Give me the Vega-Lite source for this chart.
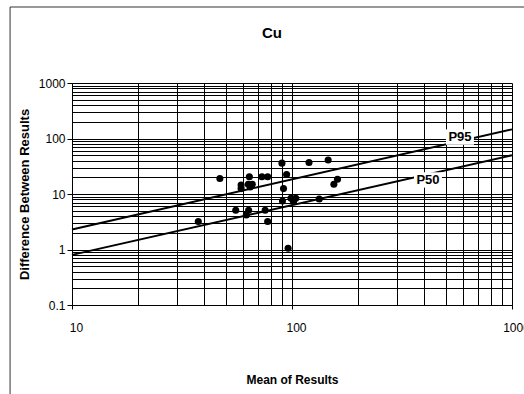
{
  "$schema": "https://vega.github.io/schema/vega-lite/v6.json",
  "autosize": {"type": "none"},
  "width": 440,
  "height": 222,
  "padding": {"left": 72, "top": 83, "right": 12, "bottom": 89},
  "background": "white",
  "config": {
    "font": "Liberation Sans",
    "view": {"stroke": null},
    "axis": {"labelFont": "Liberation Sans", "titleFont": "Liberation Sans", "labelColor": "#000", "titleColor": "#000"}
  },
  "title": {
    "text": "Cu",
    "fontSize": 15,
    "fontWeight": "bold",
    "color": "#000",
    "offset": -34,
    "dx": -20,
    "anchor": "middle"
  },
  "datasets": {
    "samples": [
      {"mean": 37.5, "diff": 3.2}, {"mean": 47, "diff": 19}, {"mean": 55.5, "diff": 5.1},
      {"mean": 58.7, "diff": 14.5}, {"mean": 58.7, "diff": 12.5}, {"mean": 62, "diff": 4.2},
      {"mean": 63.5, "diff": 5.1}, {"mean": 64, "diff": 20.5}, {"mean": 63.3, "diff": 15},
      {"mean": 66, "diff": 15}, {"mean": 64.5, "diff": 13.4}, {"mean": 73, "diff": 20.5},
      {"mean": 77.5, "diff": 20.5}, {"mean": 75.5, "diff": 5.1}, {"mean": 77.5, "diff": 3.2},
      {"mean": 90, "diff": 36}, {"mean": 94.5, "diff": 22.5}, {"mean": 91.5, "diff": 12.5},
      {"mean": 90.5, "diff": 7.5}, {"mean": 96, "diff": 1.05}, {"mean": 99, "diff": 8.4},
      {"mean": 102, "diff": 7.8}, {"mean": 104, "diff": 8.4}, {"mean": 101.5, "diff": 7.3},
      {"mean": 119.5, "diff": 37}, {"mean": 133, "diff": 8.1}, {"mean": 146, "diff": 41},
      {"mean": 155, "diff": 15}, {"mean": 161, "diff": 18.5}
    ],
    "limits": [
      {"limit": "P95", "mean": 10, "diff": 2.3}, {"limit": "P95", "mean": 1000, "diff": 146},
      {"limit": "P50", "mean": 10, "diff": 0.8}, {"limit": "P50", "mean": 1000, "diff": 50}
    ],
    "labels": [
      {"limit": "P95", "mean": 580, "diff": 106},
      {"limit": "P50", "mean": 415, "diff": 17.9}
    ]
  },
  "layer": [
    {
      "data": {"name": "samples"},
      "mark": {"type": "point", "filled": true, "color": "#000", "opacity": 1, "size": 50},
      "encoding": {
        "x": {
          "field": "mean", "type": "quantitative",
          "scale": {"type": "log", "domain": [10, 1000], "nice": false},
          "axis": {
            "title": "Mean of Results",
            "titleFontSize": 12, "titleFontWeight": "bold", "titlePadding": 41,
            "values": [10, 20, 30, 40, 50, 60, 70, 80, 90, 100, 200, 300, 400, 500, 600, 700, 800, 900, 1000],
            "labelExpr": "datum.value == 10 || datum.value == 100 || datum.value == 1000 ? format(datum.value, 'd') : ''",
            "labelFontSize": 12, "labelPadding": 13, "labelOffset": 4, "labelFlush": false,
            "grid": true, "gridColor": "#000", "gridOpacity": 1, "gridWidth": 1,
            "domainColor": "#000", "domainWidth": 1,
            "tickColor": "#000", "tickSize": 4,
            "tickOpacity": {"condition": {"test": "datum.value == 10 || datum.value == 100 || datum.value == 1000", "value": 1}, "value": 0}
          }
        },
        "y": {
          "field": "diff", "type": "quantitative",
          "scale": {"type": "log", "domain": [0.1, 1000], "nice": false},
          "axis": {
            "title": "Difference Between Results",
            "titleFontSize": 13, "titleFontWeight": "bold", "titlePadding": 7,
            "values": [0.1, 0.2, 0.3, 0.4, 0.5, 0.6, 0.7, 0.8, 0.9, 1, 2, 3, 4, 5, 6, 7, 8, 9, 10, 20, 30, 40, 50, 60, 70, 80, 90, 100, 200, 300, 400, 500, 600, 700, 800, 900, 1000],
            "labelExpr": "datum.value == 0.1 || datum.value == 1 || datum.value == 10 || datum.value == 100 || datum.value == 1000 ? format(datum.value, '~g') : ''",
            "labelFontSize": 12, "labelPadding": 2,
            "grid": true, "gridColor": "#000", "gridOpacity": 1, "gridWidth": 1,
            "domainColor": "#000", "domainWidth": 1,
            "tickColor": "#000", "tickSize": 5,
            "tickOpacity": {"condition": {"test": "datum.value == 0.1 || datum.value == 1 || datum.value == 10 || datum.value == 100 || datum.value == 1000", "value": 1}, "value": 0}
          }
        }
      }
    },
    {
      "data": {"name": "limits"},
      "mark": {"type": "line", "color": "#000", "strokeWidth": 2},
      "encoding": {
        "x": {"field": "mean", "type": "quantitative"},
        "y": {"field": "diff", "type": "quantitative"},
        "detail": {"field": "limit"}
      }
    },
    {
      "data": {"name": "labels"},
      "mark": {"type": "point", "filled": true, "color": "white", "opacity": 1, "shape": "M-1,-0.55L1,-0.55L1,0.55L-1,0.55Z", "size": 784},
      "encoding": {
        "x": {"field": "mean", "type": "quantitative"},
        "y": {"field": "diff", "type": "quantitative"}
      }
    },
    {
      "data": {"name": "labels"},
      "mark": {"type": "text", "fontSize": 13, "fontWeight": "bold", "color": "#000", "align": "center", "baseline": "middle"},
      "encoding": {
        "x": {"field": "mean", "type": "quantitative"},
        "y": {"field": "diff", "type": "quantitative"},
        "text": {"field": "limit"}
      }
    },
    {
      "data": {"values": [{"left": 5.23, "right": 3000, "top": 23400, "bottom": 0.001}]},
      "mark": {"type": "rect", "filled": false, "stroke": "#333", "strokeWidth": 1, "clip": false},
      "encoding": {
        "x": {"field": "left", "type": "quantitative"},
        "x2": {"field": "right"},
        "y": {"field": "top", "type": "quantitative"},
        "y2": {"field": "bottom"}
      }
    }
  ]
}
